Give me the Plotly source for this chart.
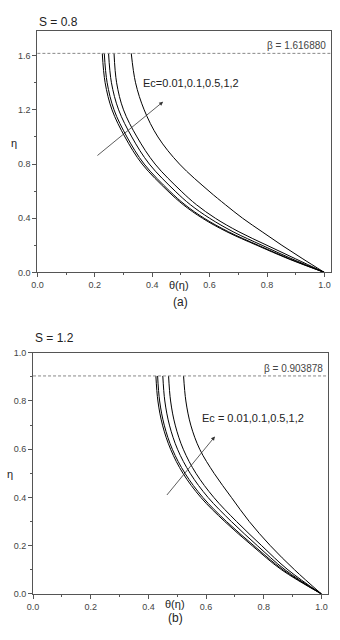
import plotly.graph_objects as go

# ---------------- data ----------------
ec_labels = ["0.01", "0.1", "0.5", "1", "2"]

# Panel (a): S = 0.8
S_a = 0.8
beta_a = 1.616880
eta_a = [0, 0.1, 0.2, 0.3, 0.4, 0.5, 0.6, 0.8, 1.0, 1.2, 1.4, 1.616880]
theta_a_ec001 = [1.0, 0.875, 0.765, 0.660, 0.575, 0.508, 0.455, 0.365, 0.305, 0.260, 0.236, 0.226]
theta_a_ec01 = [1.0, 0.879, 0.770, 0.666, 0.581, 0.514, 0.461, 0.372, 0.312, 0.267, 0.243, 0.233]
theta_a_ec05 = [1.0, 0.887, 0.783, 0.682, 0.600, 0.533, 0.480, 0.390, 0.329, 0.283, 0.258, 0.248]
theta_a_ec1 = [1.0, 0.900, 0.800, 0.702, 0.620, 0.554, 0.501, 0.410, 0.347, 0.300, 0.276, 0.267]
theta_a_ec2 = [1.0, 0.925, 0.852, 0.783, 0.715, 0.655, 0.598, 0.495, 0.420, 0.372, 0.342, 0.327]

# Panel (b): S = 1.2
S_b = 1.2
beta_b = 0.903878
eta_b = [0, 0.1, 0.2, 0.3, 0.4, 0.5, 0.6, 0.7, 0.8, 0.903878]
theta_b_ec001 = [1.0, 0.862, 0.760, 0.665, 0.582, 0.520, 0.477, 0.449, 0.433, 0.426]
theta_b_ec01 = [1.0, 0.867, 0.766, 0.671, 0.589, 0.527, 0.483, 0.455, 0.439, 0.432]
theta_b_ec05 = [1.0, 0.874, 0.778, 0.688, 0.607, 0.545, 0.501, 0.473, 0.457, 0.450]
theta_b_ec1 = [1.0, 0.884, 0.793, 0.706, 0.627, 0.565, 0.521, 0.493, 0.477, 0.470]
theta_b_ec2 = [1.0, 0.907, 0.823, 0.750, 0.688, 0.628, 0.578, 0.547, 0.530, 0.522]

x_ticks = [0.0, 0.2, 0.4, 0.6, 0.8, 1.0]
y_ticks_a = [0.0, 0.4, 0.8, 1.2, 1.6]
y_ticks_b = [0.0, 0.2, 0.4, 0.6, 0.8, 1.0]

series_a = [theta_a_ec001, theta_a_ec01, theta_a_ec05, theta_a_ec1, theta_a_ec2]
series_b = [theta_b_ec001, theta_b_ec01, theta_b_ec05, theta_b_ec1, theta_b_ec2]

# ---------------- figure ----------------
FONT = "Liberation Sans, Arial, sans-serif"
fig = go.Figure()

for lab, th in zip(ec_labels, series_a):
    fig.add_trace(go.Scatter(x=th, y=eta_a, mode="lines", name="Ec=" + lab,
                             line=dict(color="black", width=1, shape="spline", smoothing=1.0),
                             xaxis="x", yaxis="y", showlegend=False))
for lab, th in zip(ec_labels, series_b):
    fig.add_trace(go.Scatter(x=th, y=eta_b, mode="lines", name="Ec=" + lab,
                             line=dict(color="black", width=1, shape="spline", smoothing=1.0),
                             xaxis="x2", yaxis="y2", showlegend=False))

axis_common = dict(
    showline=True, linecolor="#555", linewidth=1, mirror=True,
    ticks="outside", ticklen=4, tickcolor="#555", tickwidth=1,
    showgrid=False, zeroline=False, tickformat=".1f",
    tickfont=dict(family=FONT, size=9, color="#444"),
)

fig.update_layout(
    width=340, height=640, autosize=False,
    margin=dict(l=0, r=0, t=0, b=0),
    paper_bgcolor="white", plot_bgcolor="white",
    xaxis=dict(domain=[0.094, 0.974], range=[0, 1.024], tickvals=x_ticks,
               minor=dict(dtick=0.1, ticks="outside", ticklen=2, tickcolor="#555"),
               anchor="y", **axis_common),
    yaxis=dict(domain=[0.5755, 0.9583], range=[0, 1.78], tickvals=y_ticks_a,
               minor=dict(dtick=0.2, ticks="outside", ticklen=2, tickcolor="#555"),
               anchor="x", **axis_common),
    xaxis2=dict(domain=[0.081, 0.965], range=[0, 1.024], tickvals=x_ticks,
                minor=dict(dtick=0.1, ticks="outside", ticklen=2, tickcolor="#555"),
                anchor="y2", **axis_common),
    yaxis2=dict(domain=[0.0652, 0.448], range=[0, 1.0], tickvals=y_ticks_b,
                minor=dict(dtick=0.1, ticks="outside", ticklen=2, tickcolor="#555"),
                anchor="x2", **axis_common),
    showlegend=False,
)

# dashed beta lines
fig.add_shape(type="line", xref="x domain", yref="y", x0=0, x1=1, y0=beta_a, y1=beta_a,
              line=dict(color="#888", width=1, dash="3px,2px"))
fig.add_shape(type="line", xref="x2 domain", yref="y2", x0=0, x1=1, y0=beta_b, y1=beta_b,
              line=dict(color="#888", width=1, dash="3px,2px"))

ann = []
# beta labels
ann.append(dict(text="β = %.6f" % beta_a, xref="x domain", yref="y", x=0.99, y=beta_a,
                xanchor="right", yanchor="bottom", showarrow=False,
                font=dict(family=FONT, size=10, color="#444")))
ann.append(dict(text="β = %.6f" % beta_b, xref="x2 domain", yref="y2", x=0.99, y=beta_b,
                xanchor="right", yanchor="bottom", showarrow=False,
                font=dict(family=FONT, size=10, color="#444")))
# Ec labels
ann.append(dict(text="Ec=" + ",".join(ec_labels), xref="x", yref="y", x=0.36, y=1.395,
                xanchor="left", yanchor="middle", showarrow=False,
                font=dict(family=FONT, size=11, color="#222")))
ann.append(dict(text="Ec = " + ",".join(ec_labels), xref="x2", yref="y2", x=0.58, y=0.728,
                xanchor="left", yanchor="middle", showarrow=False,
                font=dict(family=FONT, size=11, color="#222")))
# arrows
ann.append(dict(text="", xref="x", yref="y", axref="x", ayref="y",
                x=0.438, y=1.26, ax=0.204, ay=0.854, showarrow=True,
                arrowhead=2, arrowsize=1, arrowwidth=0.8, arrowcolor="#333"))
ann.append(dict(text="", xref="x2", yref="y2", axref="x2", ayref="y2",
                x=0.631, y=0.653, ax=0.46, ay=0.404, showarrow=True,
                arrowhead=2, arrowsize=1, arrowwidth=0.8, arrowcolor="#333"))
# S titles
ann.append(dict(text="S = %.1f" % S_a, xref="paper", yref="paper", x=0.094, y=1 - 17 / 640,
                xanchor="left", yanchor="middle", showarrow=False,
                font=dict(family=FONT, size=12, color="#222")))
ann.append(dict(text="S = %.1f" % S_b, xref="paper", yref="paper", x=0.081, y=1 - 338 / 640,
                xanchor="left", yanchor="middle", showarrow=False,
                font=dict(family=FONT, size=12, color="#222")))
# axis labels
ann.append(dict(text="θ(η)", xref="x", yref="paper", x=0.45, y=1 - 284 / 640,
                xanchor="left", yanchor="middle", showarrow=False,
                font=dict(family=FONT, size=11, color="#222")))
ann.append(dict(text="θ(η)", xref="x2", yref="paper", x=0.45, y=1 - 609 / 640,
                xanchor="left", yanchor="middle", showarrow=False,
                font=dict(family=FONT, size=11, color="#222")))
ann.append(dict(text="η", xref="paper", yref="paper", x=8 / 340, y=1 - 140 / 640,
                xanchor="center", yanchor="middle", showarrow=False,
                font=dict(family=FONT, size=11, color="#222")))
ann.append(dict(text="η", xref="paper", yref="paper", x=4 / 340, y=1 - 476 / 640,
                xanchor="center", yanchor="middle", showarrow=False,
                font=dict(family=FONT, size=11, color="#222")))
# panel captions
ann.append(dict(text="(a)", xref="paper", yref="paper", x=178 / 340, y=1 - 302 / 640,
                xanchor="center", yanchor="middle", showarrow=False,
                font=dict(family=FONT, size=12, color="#222")))
ann.append(dict(text="(b)", xref="paper", yref="paper", x=173 / 340, y=1 - 623 / 640,
                xanchor="center", yanchor="middle", showarrow=False,
                font=dict(family=FONT, size=12, color="#222")))

fig.update_layout(annotations=ann)
fig.write_html("out.html", config={"displayModeBar": False},
               post_script="document.body.style.margin='0';document.body.style.overflow='hidden';")
